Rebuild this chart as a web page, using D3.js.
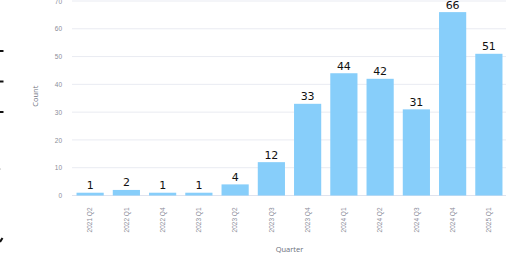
<!DOCTYPE html>
<html>
<head>
<meta charset="utf-8">
<script src="https://cdn.jsdelivr.net/npm/d3@7"></script>
<style>
  body { margin: 0; background: #fff; }
  svg { display: block; font-family: "Open Sans", "Noto Sans", sans-serif; }
</style>
</head>
<body>
<div id="wrapper"></div>
<script>
const quarters = ["2021 Q2", "2022 Q1", "2022 Q4", "2023 Q1", "2023 Q2", "2023 Q3",
  "2023 Q4", "2024 Q1", "2024 Q2", "2024 Q3", "2024 Q4", "2025 Q1"]
const counts = [1, 2, 1, 1, 4, 12, 33, 44, 42, 31, 66, 51]
const yTicks = [0, 10, 20, 30, 40, 50, 60, 70]

function drawBars() {
  let dimensions = {
    width: 506,
    height: 254,
    margin: { top: 1, right: -1, bottom: 58.5, left: 72 },
  }
  dimensions.boundedWidth = dimensions.width - dimensions.margin.left - dimensions.margin.right
  dimensions.boundedHeight = dimensions.height - dimensions.margin.top - dimensions.margin.bottom

  const svg = d3.select("#wrapper").append("svg")
    .attr("width", dimensions.width)
    .attr("height", dimensions.height)

  // little marks cut off at the left edge
  const edge = svg.append("g").attr("stroke", "#111").attr("stroke-width", 2)
  ;[51, 81.5, 112].forEach(y => edge.append("line").attr("x1", 0).attr("x2", 3.5).attr("y1", y).attr("y2", y))
  edge.append("line").attr("x1", 0).attr("x2", 2.5).attr("y1", 242).attr("y2", 238)
  svg.append("circle").attr("cx", 0.5).attr("cy", 169).attr("r", 0.6).attr("fill", "#bbb")

  const bounds = svg.append("g")
    .attr("transform", `translate(${dimensions.margin.left},${dimensions.margin.top})`)

  const xScale = d3.scaleBand()
    .domain(quarters)
    .range([0, dimensions.boundedWidth])
    .paddingInner(0.25)
    .paddingOuter(0.125)

  const yScale = d3.scaleLinear()
    .domain([0, 70])
    .range([dimensions.boundedHeight, 0])

  // grid
  bounds.append("g")
    .selectAll("line")
    .data(yTicks)
    .join("line")
      .attr("x1", 0)
      .attr("x2", dimensions.boundedWidth + 2)
      .attr("y1", d => yScale(d))
      .attr("y2", d => yScale(d))
      .attr("stroke", d => d == 0 ? "#dfe3ee" : "#e9ebf2")
      .attr("stroke-width", 1)

  const yAxis = d3.axisLeft(yScale).tickValues(yTicks).tickSize(0).tickPadding(10)
  const yAxisGroup = bounds.append("g").call(yAxis)
  yAxisGroup.select(".domain").remove()
  yAxisGroup.selectAll("text")
    .attr("fill", "#8a8d99")
    .style("font-size", "6.5px")

  bounds.append("text")
    .attr("transform", `translate(-34,${dimensions.boundedHeight / 2 - 2}) rotate(-90)`)
    .attr("text-anchor", "middle")
    .attr("fill", "#6b6f7d")
    .style("font-size", "7.5px")
    .text("Count")

  const data = quarters.map((q, i) => ({ q, c: counts[i] }))

  bounds.append("g")
    .selectAll("rect")
    .data(data)
    .join("rect")
      .attr("x", d => xScale(d.q))
      .attr("width", xScale.bandwidth())
      .attr("y", d => yScale(d.c))
      .attr("height", d => dimensions.boundedHeight - yScale(d.c))
      .attr("fill", "#87cefa")

  bounds.append("g")
    .selectAll("text")
    .data(data)
    .join("text")
      .attr("x", d => xScale(d.q) + xScale.bandwidth() / 2)
      .attr("y", d => yScale(d.c) - 3.5)
      .attr("text-anchor", "middle")
      .attr("fill", "#111")
      .style("font-size", "11px")
      .style("font-family", "'DejaVu Sans', sans-serif")
      .text(d => d.c)

  const xAxis = d3.axisBottom(xScale).tickSize(0).tickPadding(0)
  const xAxisGroup = bounds.append("g")
    .attr("transform", `translate(0,${dimensions.boundedHeight})`)
    .call(xAxis)
  xAxisGroup.select(".domain").remove()
  xAxisGroup.selectAll("text")
    .attr("transform", "translate(0,12) rotate(-90)")
    .attr("x", 0)
    .attr("y", 0)
    .attr("dy", "0.35em")
    .attr("text-anchor", "end")
    .attr("fill", "#8a8d99")
    .style("font-size", "6.5px")

  bounds.append("text")
    .attr("x", dimensions.boundedWidth / 2)
    .attr("y", dimensions.boundedHeight + 56)
    .attr("text-anchor", "middle")
    .attr("fill", "#6b6f7d")
    .style("font-size", "7.5px")
    .text("Quarter")
}
drawBars()
</script>
</body>
</html>
